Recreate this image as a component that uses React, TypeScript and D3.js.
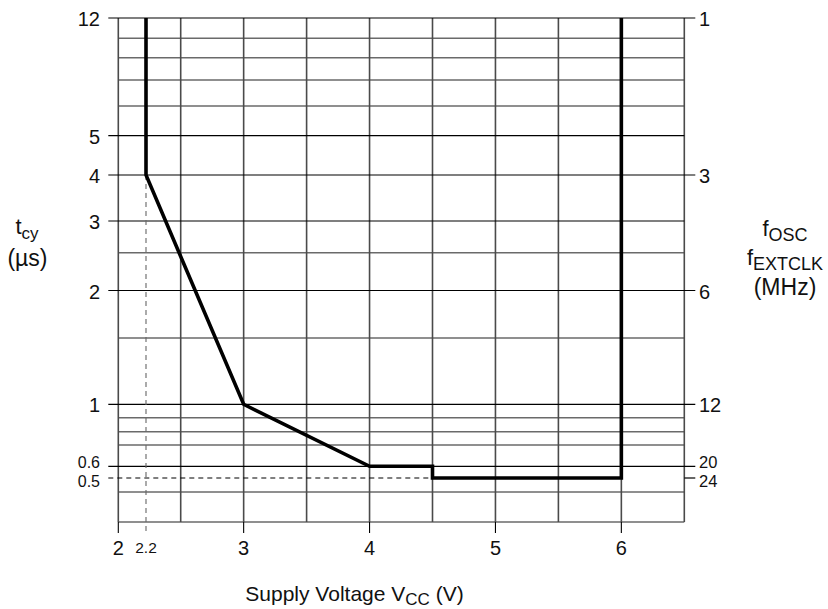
import React from "react";
import * as d3 from "d3";

// ---- Data ----
const voltageTicks = [2, 2.2, 3, 4, 5, 6];
const voltageGrid = [2, 2.5, 3, 3.5, 4, 4.5, 5, 5.5, 6, 6.5];
const tcyTicks = [12, 5, 4, 3, 2, 1, 0.6, 0.5];
const tcyGrid = [10, 8, 7, 6, 2.5, 1.5, 0.9, 0.8, 0.7, 0.4];
const freqTicks = [1, 3, 6, 12, 20, 24];
const limitVoltage = [2.2, 2.2, 3, 4, 4.5, 4.5, 6, 6];
const limitTcy = [12, 4, 1, 0.6, 0.6, 0.5, 0.5, 12];

const W = 828;
const H = 609;
const FONT = "'Liberation Sans', Arial, Helvetica, sans-serif";

export default function App() {
  const left = 118.3;
  const right = 684.3;
  const top = 18;
  const bottom = 522;

  // Non-uniform (hand-drawn datasheet) scales, as polylinear scales
  const x = d3
    .scaleLinear()
    .domain([2, 2.2, 2.5, 6.5])
    .range([left, left + 27.7, left + 62.4, right]);

  const yDomain = [12, 10, 8, 7, 6, 5, 4, 3, 2.5, 2, 1.5, 1, 0.9, 0.8, 0.7, 0.6, 0.5, 0.4, 0.3];
  const yRange = [top, 38.3, 57.7, 80, 106, 135.7, 175, 221, 252.7, 290.5, 338, 404.3, 417.7, 431.7, 445, 466.3, 478, 492, bottom];
  const y = d3.scaleLinear().domain(yDomain).range(yRange);

  const lineGen = d3
    .line<number>()
    .x((_, i) => x(limitVoltage[i]))
    .y((_, i) => y(limitTcy[i]));
  const limitPath = lineGen(limitVoltage) || "";

  const rightLabeled = new Set(freqTicks.map((f) => +(12 / f).toFixed(3)));

  // small vertical nudges for the crowded 0.6 / 0.5 labels
  const nudge = (v: number) => (v === 0.6 ? -4 : v === 0.5 ? 3 : 1);

  return (
    <svg
      width={W}
      height={H}
      viewBox={`0 0 ${W} ${H}`}
      style={{ position: "absolute", left: 0, top: 0, background: "#fff" }}
      fontFamily={FONT}
    >
      <rect x={0} y={0} width={W} height={H} fill="#fff" />

      {/* unlabeled horizontal grid */}
      {tcyGrid.map((v) => (
        <line key={"hg" + v} x1={left} x2={right} y1={y(v)} y2={y(v)} stroke="#6a6a6a" strokeWidth={1.6} />
      ))}
      {/* bottom frame */}
      <line x1={left} x2={right} y1={bottom} y2={bottom} stroke="#6a6a6a" strokeWidth={1.6} />

      {/* vertical grid */}
      {voltageGrid.map((v) => (
        <line key={"vg" + v} x1={x(v)} x2={x(v)} y1={top} y2={bottom} stroke="#4a4a4a" strokeWidth={1.6} />
      ))}
      {/* x tick extensions */}
      {voltageTicks
        .filter((v) => v !== 2.2)
        .map((v) => (
          <line key={"xt" + v} x1={x(v)} x2={x(v)} y1={bottom} y2={533} stroke="#000" strokeWidth={1.1} />
        ))}

      {/* labeled horizontal lines */}
      {tcyTicks
        .filter((v) => v !== 0.5)
        .map((v) => (
          <line
            key={"hl" + v}
            x1={left - 10}
            x2={rightLabeled.has(v) ? right + 11 : right}
            y1={y(v)}
            y2={y(v)}
            stroke="#000"
            strokeWidth={1.2}
          />
        ))}
      {/* 0.5 dashed reference and ticks */}
      <line x1={left - 10} x2={x(4.5)} y1={y(0.5)} y2={y(0.5)} stroke="#000" strokeWidth={1.1} strokeDasharray="5,4" />
      <line x1={right} x2={right + 11} y1={y(0.5)} y2={y(0.5)} stroke="#000" strokeWidth={1.2} />

      {/* 2.2 V dashed reference */}
      <line x1={x(2.2)} x2={x(2.2)} y1={y(4)} y2={535} stroke="#666" strokeWidth={1.1} strokeDasharray="5,4" />

      {/* operating limit curve */}
      <path d={limitPath} fill="none" stroke="#000" strokeWidth={3.6} strokeLinejoin="miter" />

      {/* left tick labels */}
      {tcyTicks.map((v) => (
        <text
          key={"lt" + v}
          x={100}
          y={y(v) + nudge(v)}
          textAnchor="end"
          dominantBaseline="central"
          fontSize={v < 1 ? 16 : 20}
          fill="#111"
        >
          {v}
        </text>
      ))}

      {/* right tick labels */}
      {freqTicks.map((f) => (
        <text
          key={"rt" + f}
          x={699}
          y={y(12 / f) + nudge(12 / f)}
          textAnchor="start"
          dominantBaseline="central"
          fontSize={f >= 20 ? 16.5 : 20}
          fill="#111"
        >
          {f}
        </text>
      ))}

      {/* x tick labels */}
      {voltageTicks.map((v) => (
        <text
          key={"xl" + v}
          x={x(v)}
          y={v === 2.2 ? 553 : 555}
          textAnchor="middle"
          fontSize={v === 2.2 ? 15.5 : 20}
          fill="#111"
        >
          {v}
        </text>
      ))}

      {/* axis titles */}
      <text x={27} y={234} textAnchor="middle" fontSize={22} fill="#111">
        t<tspan fontSize={17} dy={5}>cy</tspan>
      </text>
      <text x={27.5} y={266} textAnchor="middle" fontSize={23} fill="#111">
        (µs)
      </text>

      <text x={785} y={236} textAnchor="middle" fontSize={22} fill="#111">
        f<tspan fontSize={18} dy={5}>OSC</tspan>
      </text>
      <text x={785} y={265} textAnchor="middle" fontSize={22} fill="#111">
        f<tspan fontSize={18} dy={5}>EXTCLK</tspan>
      </text>
      <text x={785} y={295} textAnchor="middle" fontSize={23} fill="#111">
        (MHz)
      </text>

      <text x={354.5} y={601} textAnchor="middle" fontSize={21} fill="#111">
        Supply Voltage V<tspan fontSize={17} dy={4}>CC</tspan>
        <tspan dy={-4}> (V)</tspan>
      </text>
    </svg>
  );
}
